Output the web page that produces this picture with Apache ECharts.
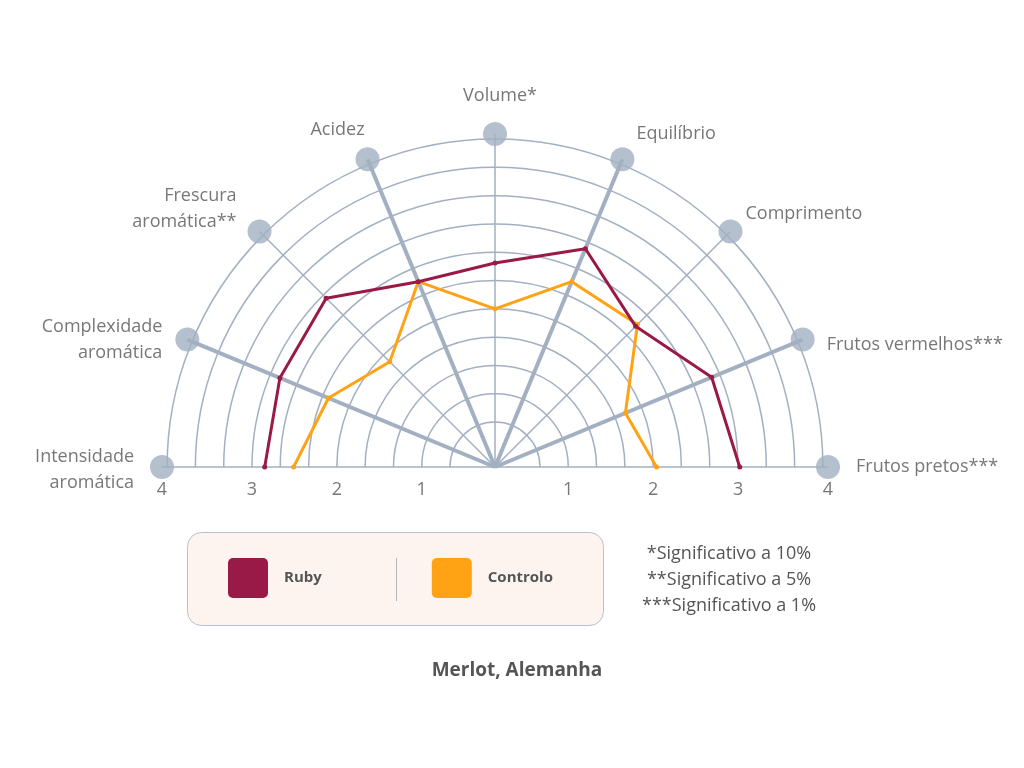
<!DOCTYPE html>
<html>
<head>
<meta charset="utf-8">
<script src="https://cdn.jsdelivr.net/npm/echarts@6/dist/echarts.min.js"></script>
<style>
html,body{margin:0;padding:0;background:#fff;}
#chart{width:1024px;height:768px;}
</style>
</head>
<body>
<div id="chart"></div>
<script>
// ---- data ----
const axisNames = ['Frutos pretos***', 'Frutos vermelhos***', 'Comprimento', 'Equilíbrio', 'Volume*', 'Acidez', 'Frescura\naromática**', 'Complexidade\naromática', 'Intensidade\naromática'];
const axisAngles = [0, 22.5, 45, 67.5, 90, 112.5, 135, 157.5, 180];
const rubyValues = [3.02, 2.9, 2.48, 2.92, 2.54, 2.5, 2.95, 2.88, 2.85];
const controloValues = [2.04, 1.8, 2.51, 2.5, 2.0, 2.5, 1.89, 2.26, 2.51];
const ringValues = [0.667, 1, 1.333, 1.667, 2, 2.333, 2.667, 3, 3.333, 3.667, 4];
const tickValues = [1, 2, 3, 4];
const seriesNames = ['Ruby', 'Controlo'];
const footnotes = ['*Significativo a 10%', '**Significativo a 5%', '***Significativo a 1%'];
const chartTitle = 'Merlot, Alemanha';
const radialMin = 0.137, radialMax = 4, spokeEnd = 4.06;

// ---- layout / style ----
const FONT = '"Open Sans", sans-serif';
const TEXT = '#555555';
const GRID = '#a3b0c2';
const colors = ['#9a1a47', '#ffa314'];
const labelLayout = [
  {align: 'left', dx: 28, dy: 0},
  {align: 'left', dx: 24, dy: 5},
  {align: 'left', dx: 15, dy: -18},
  {align: 'left', dx: 14, dy: -25},
  {align: 'center', dx: 5, dy: -38},
  {align: 'right', dx: -3, dy: -29},
  {align: 'right', dx: -23, dy: -23},
  {align: 'right', dx: -25, dy: 0},
  {align: 'right', dx: -28, dy: 3}
];
const roundIcon = 'path://M5,0H35A5,5,0,0,1,40,5V35A5,5,0,0,1,35,40H5A5,5,0,0,1,0,35V5A5,5,0,0,1,5,0Z';

const chart = echarts.init(document.getElementById('chart'), null, {renderer: 'canvas'});

const option = {
  backgroundColor: '#ffffff',
  animation: false,
  textStyle: {fontFamily: FONT},
  title: [
    {
      text: chartTitle, left: 517, top: 661, textAlign: 'center', padding: 0,
      textStyle: {fontFamily: FONT, fontSize: 19, fontWeight: 'bold', color: TEXT}
    },
    {
      text: footnotes.join('\n'), left: 729, top: 541, textAlign: 'center', padding: 0,
      textStyle: {fontFamily: FONT, fontSize: 18, fontWeight: 'normal', color: TEXT, lineHeight: 26}
    }
  ],
  legend: {
    data: seriesNames,
    left: 228, top: 558, padding: 0,
    icon: roundIcon,
    itemWidth: 40, itemHeight: 40,
    itemGap: 110,
    selectedMode: false,
    textStyle: {fontFamily: FONT, fontSize: 15, fontWeight: 'bold', color: TEXT, padding: [2, 0, 0, 11]}
  },
  graphic: [
    {
      type: 'rect', z: -10, silent: true,
      shape: {x: 187.5, y: 532.5, width: 416, height: 93, r: 14},
      style: {fill: '#fdf4ef', stroke: '#b8c0cf', lineWidth: 1}
    },
    {
      type: 'line', z: -9, silent: true,
      shape: {x1: 396.5, y1: 558, x2: 396.5, y2: 601},
      style: {stroke: '#b5b5b5', lineWidth: 1}
    }
  ],
  polar: {center: [495, 467], radius: 333},
  angleAxis: {
    type: 'value', min: 0, max: 360, startAngle: 0, clockwise: false,
    axisLine: {show: false}, axisTick: {show: false}, axisLabel: {show: false}, splitLine: {show: false}
  },
  radiusAxis: {
    type: 'value', min: radialMin, max: spokeEnd,
    axisLine: {show: false}, axisTick: {show: false}, axisLabel: {show: false}, splitLine: {show: false}
  },
  series: [
    {
      type: 'custom', coordinateSystem: 'polar', silent: true, z: 1,
      data: ringValues.map(v => [v, 0]),
      renderItem: function (params, api) {
        const cs = params.coordSys;
        const p = api.coord([api.value(0), 0]);
        const r = Math.hypot(p[0] - cs.cx, p[1] - cs.cy);
        return {
          type: 'arc',
          shape: {cx: cs.cx, cy: cs.cy, r: r, startAngle: Math.PI, endAngle: 2 * Math.PI, clockwise: true},
          style: {stroke: GRID, lineWidth: 1.5, fill: null}
        };
      }
    },
    {
      type: 'custom', coordinateSystem: 'polar', silent: true, z: 2,
      data: axisAngles.map(a => [spokeEnd, a]),
      renderItem: function (params, api) {
        const cs = params.coordSys;
        const p = api.coord([api.value(0), api.value(1)]);
        const thick = params.dataIndex % 2 === 1;
        return {
          type: 'line',
          shape: {x1: cs.cx, y1: cs.cy, x2: p[0], y2: p[1]},
          style: {stroke: GRID, lineWidth: thick ? 4 : 1.5}
        };
      }
    },
    {
      type: 'scatter', coordinateSystem: 'polar', silent: true, z: 3,
      symbol: 'circle', symbolSize: 24,
      itemStyle: {color: GRID},
      data: axisAngles.map((a, i) => ({
        value: [spokeEnd, a],
        name: axisNames[i],
        label: {
          show: true, position: 'inside',
          align: labelLayout[i].align, verticalAlign: 'middle',
          offset: [labelLayout[i].dx, labelLayout[i].dy],
          formatter: axisNames[i],
          fontFamily: FONT, fontSize: 18, color: TEXT, lineHeight: 26
        }
      }))
    },
    {
      type: 'scatter', coordinateSystem: 'polar', silent: true, z: 3,
      symbolSize: 0,
      data: tickValues.map(v => ({value: [v === radialMax ? spokeEnd : v, 0], name: String(v)}))
        .concat(tickValues.map(v => ({value: [v === radialMax ? spokeEnd : v, 180], name: String(v)}))),
      label: {
        show: true, position: 'bottom', distance: 14,
        formatter: p => p.name,
        fontFamily: FONT, fontSize: 18, color: TEXT
      }
    },
    {
      name: seriesNames[0], type: 'line', coordinateSystem: 'polar', z: 5,
      data: rubyValues.map((v, i) => [v, axisAngles[i]]),
      color: colors[0],
      lineStyle: {width: 3, color: colors[0]},
      itemStyle: {color: colors[0]},
      symbol: 'circle', symbolSize: 5, showSymbol: true
    },
    {
      name: seriesNames[1], type: 'line', coordinateSystem: 'polar', z: 4,
      data: controloValues.map((v, i) => [v, axisAngles[i]]),
      color: colors[1],
      lineStyle: {width: 3, color: colors[1]},
      itemStyle: {color: colors[1]},
      symbol: 'circle', symbolSize: 5, showSymbol: true
    }
  ]
};
chart.setOption(option);
</script>
</body>
</html>
